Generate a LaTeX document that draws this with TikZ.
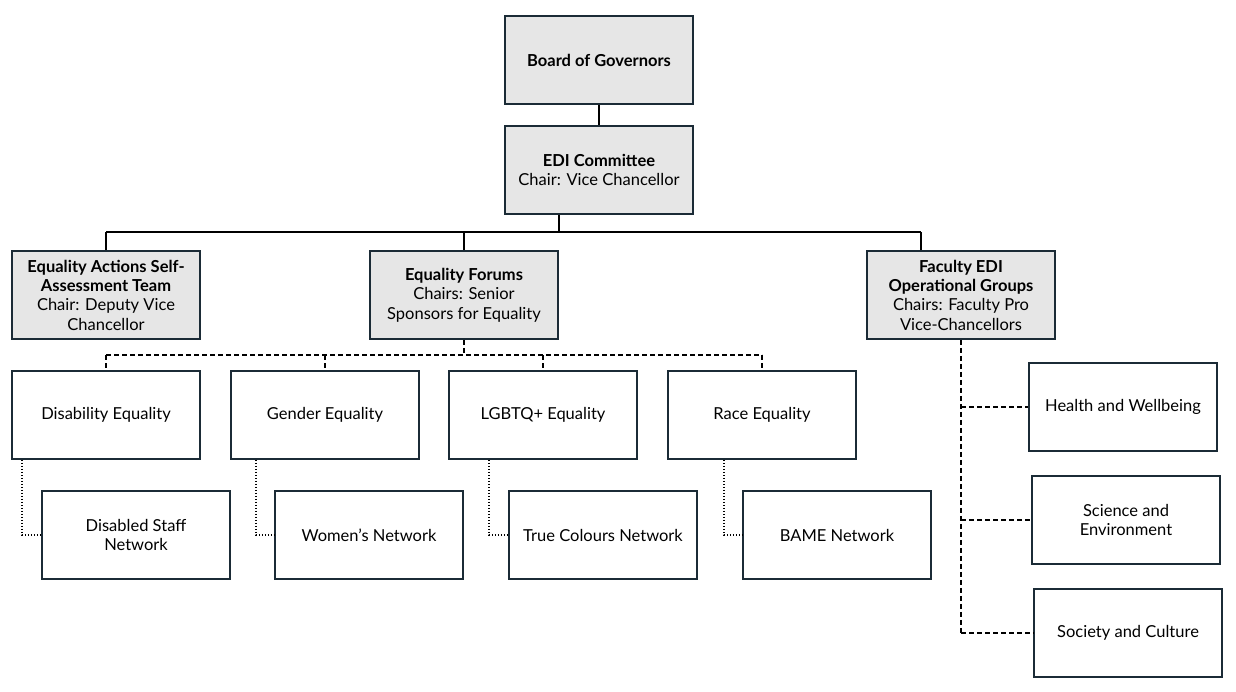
\documentclass[tikz,border=0pt]{standalone}
\usepackage{fontspec}
\setmainfont{Lato}
\definecolor{bord}{HTML}{1B2B36}
\definecolor{gfill}{HTML}{E6E6E6}
\begin{document}
\begin{tikzpicture}[x=1pt,y=-1pt,
  box/.style={draw=bord,line width=1.5pt,minimum width=188pt,minimum height=88pt,align=center,inner sep=2pt,font=\fontsize{16.5}{19.3}\selectfont},
  gbox/.style={box,fill=gfill},
  wbox/.style={box,fill=white},
  ln/.style={draw=black,line width=1.5pt},
  dsh/.style={ln,dash pattern=on 5pt off 3pt},
  dot/.style={ln,dash pattern=on 1.5pt off 1.5pt}]
\useasboundingbox (0,0) rectangle (1236,691);
\node[gbox] (bog) at (599,60) {\textbf{Board of Governors}};
\node[gbox] (edi) at (599,170) {\textbf{EDI Committee}\\Chair: Vice Chancellor};
\node[gbox] (eas) at (106,295) {\textbf{Equality Actions Self-}\\\textbf{Assessment Team}\\Chair: Deputy Vice\\Chancellor};
\node[gbox] (ef) at (464,295) {\textbf{Equality Forums}\\Chairs: Senior\\Sponsors for Equality};
\node[gbox] (fac) at (961,295) {\textbf{Faculty EDI}\\\textbf{Operational Groups}\\Chairs: Faculty Pro\\Vice-Chancellors};
\node[wbox] (dis) at (106,415) {Disability Equality};
\node[wbox] (gen) at (325,415) {Gender Equality};
\node[wbox] (lgb) at (543,415) {LGBTQ+ Equality};
\node[wbox] (rac) at (762,415) {Race Equality};
\node[wbox] (dsn) at (136,535) {Disabled Staff\\Network};
\node[wbox] (wn) at (369,535) {Women's Network};
\node[wbox] (tcn) at (603,535) {True Colours Network};
\node[wbox] (bame) at (837,535) {BAME Network};
\node[wbox] (hw) at (1123,407) {Health and Wellbeing};
\node[wbox] (se) at (1126,520) {Science and\\Environment};
\node[wbox] (sc) at (1128,633) {Society and Culture};
\draw[ln] (bog.south) -- (edi.north);
\coordinate (j) at (559,232);
\draw[ln] (edi.south -| j) -- (j);
\draw[ln] (106,232) -- (921,232);
\draw[ln] (106,232) -- (eas.north);
\draw[ln] (464,232) -- (ef.north);
\draw[ln] (921,232) -- (fac.north -| 921,0);
\draw[dsh] (ef.south) -- (464,355);
\draw[dsh] (106,355) -- (762,355);
\foreach \n/\x in {dis/106,gen/325,lgb/543,rac/762} \draw[dsh] (\x,355) -- (\n.north -| \x,0);
\foreach \a/\b/\x in {dis/dsn/22,gen/wn/256,lgb/tcn/489,rac/bame/724} \draw[dot] (\a.south -| \x,0) |- (\b.west);
\draw[dsh] (fac.south) -- (961,633);
\foreach \n in {hw,se,sc} \draw[dsh] (\n.west -| 961,0) -- (\n.west);
\end{tikzpicture}
\end{document}
